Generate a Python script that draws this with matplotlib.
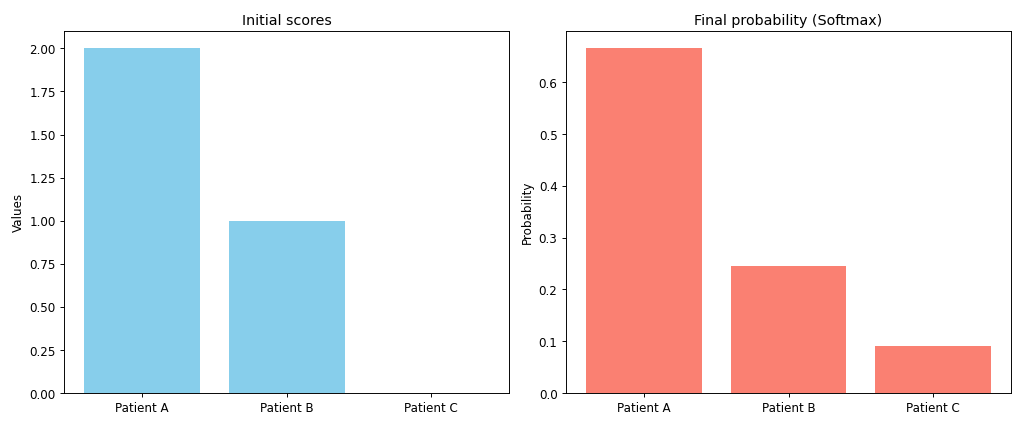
import matplotlib
matplotlib.use("Agg")
import matplotlib.pyplot as plt

patients = ['Patient A', 'Patient B', 'Patient C']
scores = [2.0, 1.0, 0.0]
probs = [0.665, 0.245, 0.090]

fig, (ax1, ax2) = plt.subplots(1, 2, figsize=(12, 5))

ax1.bar(patients, scores, color='skyblue')
ax1.set_title('Initial scores')
ax1.set_ylabel('Values')

ax2.bar(patients, probs, color='salmon')
ax2.set_title('Final probability (Softmax)')
ax2.set_ylabel('Probability')

plt.tight_layout()
plt.savefig('out.png', dpi=1024 / 12)
